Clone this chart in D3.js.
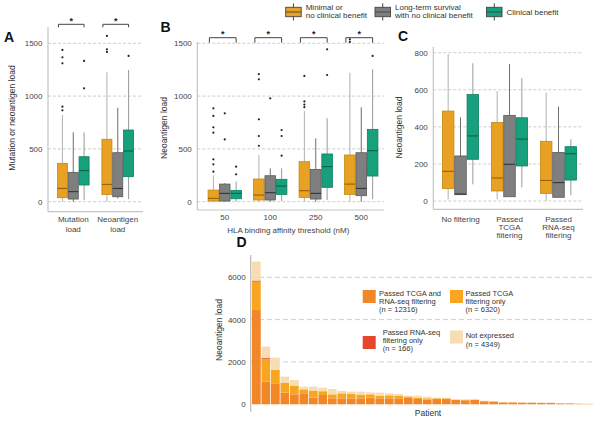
<!DOCTYPE html>
<html><head><meta charset="utf-8">
<script src="https://cdn.jsdelivr.net/npm/d3@7"></script>
<style>body{margin:0;background:#fff} svg{display:block}</style>
</head><body><svg id="c" width="600" height="423"></svg>
<script>
const F = '"Liberation Sans", Arial, Helvetica, sans-serif';
const FB = '"Liberation Sans Narrow", "Liberation Sans", Arial, sans-serif';

// ---------- series ----------
const seriesNames = ["Minimal or no clinical benefit", "Long-term survival with no clinical benefit", "Clinical benefit"];
const legendLines = [["Minimal or", "no clinical benefit"], ["Long-term survival", "with no clinical benefit"], ["Clinical benefit"]];
const boxFill = ["#E8A123", "#7f7f7f", "#17A07C"];
const boxStroke = ["#c4870f", "#5a5a5a", "#0e7f60"];
const medianColor = ["#8c5a00", "#2e2e2e", "#075c44"];
const whiskerColor = ["#b0b0b0", "#6e6e6e", "#9a9a9a"];

// ---------- Panel A ----------
const catsA = ["Mutation load", "Neoantigen load"];
const catLinesA = [["Mutation", "load"], ["Neoantigen", "load"]];
const ticksA = [0, 500, 1000, 1500];
// [lower whisker, Q1, median, Q3, upper whisker]
const boxA_minimal = [[0, 38, 126, 363, 821], [0, 69, 164, 591, 1225]];
const boxA_longterm = [[0, 25, 95, 278, 657], [30, 47, 126, 464, 890]];
const boxA_benefit = [[16, 158, 294, 426, 657], [25, 237, 480, 679, 1247]];
const outA_minimal = [[1437, 1367, 1310, 900, 865], [1570, 1443, 1418]];
const outA_longterm = [[], []];
const outA_benefit = [[1333, 1074], [1380]];

// ---------- Panel B ----------
const catsB = ["50", "100", "250", "500"];
const ticksB = [0, 500, 1000, 1500];
const boxB_minimal = [[0, 6, 32, 110, 250], [0, 16, 63, 215, 442], [0, 41, 104, 379, 859], [0, 69, 167, 442, 1222]];
const boxB_longterm = [[0, 6, 79, 167, 175], [0, 16, 85, 246, 316], [0, 25, 79, 306, 600], [0, 57, 126, 464, 894]];
const boxB_benefit = [[0, 28, 79, 107, 190], [6, 69, 148, 212, 316], [16, 136, 332, 452, 790], [25, 243, 483, 685, 1254]];
const outB_minimal = [[884, 812, 704, 654, 401, 354, 284], [1209, 1159, 780, 622, 530], [1191, 950, 920, 895], [1538, 1513]];
const outB_longterm = [[837, 590], [979], [], []];
const outB_benefit = [[332, 259], [679, 622, 436], [1443, 1200], [1380]];

// ---------- Panel C ----------
const catsC = ["No filtering", "Passed TCGA filtering", "Passed RNA-seq filtering"];
const catLinesC = [["No filtering"], ["Passed", "TCGA", "filtering"], ["Passed", "RNA-seq", "filtering"]];
const ticksC = [0, 200, 400, 600, 800];
const boxC_minimal = [[9, 67, 160, 485, 793], [9, 54, 124, 424, 593], [0, 41, 111, 322, 584]];
const boxC_longterm = [[36, 34, 38, 243, 451], [23, 23, 198, 462, 739], [20, 20, 99, 262, 509]];
const boxC_benefit = [[90, 225, 351, 574, 743], [74, 189, 334, 449, 662], [31, 113, 255, 293, 333]];

// ---------- Panel D ----------
const dLegend = ["Passed TCGA and RNA-seq filtering (n = 12316)", "Passed TCGA filtering only (n = 6320)", "Passed RNA-seq filtering only (n = 166)", "Not expressed (n = 4349)"];
const ticksD = [0, 2000, 4000, 6000];
const dBoth   = [4457,1071,992,551,472,488,315,441,283,283,283,283,315,283,283,283,330,252,220,250,260,205,189,205,142,130,90,90,78,75,62,62,48,45,20,10];
const dTcga   = [1340,1060,630,473,410,221,331,140,189,237,205,174,157,126,142,126,40,63,63,33,23,16,16,16,10,10,5,5,4,5,5,5,4,5,5,5];
const dRna    = [50,50,0,0,0,0,0,25,0,0,0,0,0,0,0,0,0,0,0,0,0,0,0,0,0,0,0,0,0,0,0,0,0,0,0,0];
const dNotExp = [894,544,583,283,268,126,189,181,252,110,110,141,95,142,95,79,39,94,79,32,32,31,31,31,21,17,15,15,12,14,12,12,11,13,22,16];
const dColors = ["#F2872A", "#F8A620", "#E5472A", "#F6DDB4"];

const svg = d3.select("#c");

function txt(g, x, y, s, size, anchor) {
  return g.append("text").attr("x", x).attr("y", y).attr("font-size", size)
    .attr("font-family", F).attr("fill", "#333").attr("text-anchor", anchor || "start").text(s);
}

function boxPanel(cfg) {
  const g = svg.append("g");
  const x = d3.scaleBand().domain(cfg.cats).range(cfg.xr).paddingInner(cfg.pad).paddingOuter(cfg.pad / 2);
  const xs = d3.scaleBand().domain([0, 1, 2]).range([0, x.bandwidth()]);
  const y = d3.scaleLinear().domain(cfg.yd).range(cfg.yr);
  g.selectAll("line.grid").data(cfg.ticks).join("line")
    .attr("x1", cfg.axisX).attr("x2", cfg.gridEnd)
    .attr("y1", d => y(d)).attr("y2", d => y(d))
    .attr("stroke", "#c2c2c2").attr("stroke-width", 0.8).attr("stroke-dasharray", "3,2");
  g.append("line").attr("x1", cfg.axisX).attr("x2", cfg.axisX).attr("y1", cfg.axisTop).attr("y2", cfg.axisBottom)
    .attr("stroke", "#c4c4c4").attr("stroke-width", 1.2);
  g.append("line").attr("x1", cfg.axisX).attr("x2", cfg.gridEnd).attr("y1", cfg.axisBottom).attr("y2", cfg.axisBottom)
    .attr("stroke", "#c4c4c4").attr("stroke-width", 1.2);
  const ax = d3.axisLeft(y).tickValues(cfg.ticks).tickSize(0).tickPadding(5.5).tickFormat(d3.format("d"));
  const ag = g.append("g").attr("transform", `translate(${cfg.axisX},0)`).call(ax);
  ag.select(".domain").remove();
  ag.selectAll("text").attr("font-size", 8).attr("fill", "#444").attr("font-family", F);

  cfg.boxes.forEach((arr, si) => {
    arr.forEach((b, ci) => {
      const x0 = x(cfg.cats[ci]) + xs(si), w = xs.bandwidth(), cx = x0 + w / 2;
      g.append("line").attr("x1", cx).attr("x2", cx).attr("y1", y(b[0])).attr("y2", y(b[1]))
        .attr("stroke", whiskerColor[si]).attr("stroke-width", 1);
      g.append("line").attr("x1", cx).attr("x2", cx).attr("y1", y(b[3])).attr("y2", y(b[4]))
        .attr("stroke", whiskerColor[si]).attr("stroke-width", 1);
      g.append("rect").attr("x", x0 + 0.4).attr("y", y(b[3])).attr("width", w - 0.8).attr("height", y(b[1]) - y(b[3]))
        .attr("fill", boxFill[si]).attr("stroke", boxStroke[si]).attr("stroke-width", 0.8);
      g.append("line").attr("x1", x0 + 0.4).attr("x2", x0 + w - 0.4).attr("y1", y(b[2])).attr("y2", y(b[2]))
        .attr("stroke", medianColor[si]).attr("stroke-width", 1);
      if (cfg.outliers) {
        g.selectAll(null).data(cfg.outliers[si][ci]).join("circle")
          .attr("cx", cx).attr("cy", d => y(d)).attr("r", 1.1).attr("fill", "#222");
      }
    });
  });
  cfg.cats.forEach((c, ci) => {
    const cx = x(c) + x.bandwidth() / 2;
    cfg.catLines[ci].forEach((ln, li) => {
      txt(g, cx, cfg.labelY + li * cfg.lineH, ln, 8, "middle").attr("fill", "#444");
    });
  });
  if (cfg.bracket) {
    cfg.cats.forEach(c => {
      const x1 = x(c) + xs.bandwidth() / 2 - 4, x2 = x(c) + xs(2) + xs.bandwidth() / 2;
      const by = cfg.bracket.y, bt = cfg.bracket.tick;
      g.append("path").attr("d", `M${x1},${by + bt}V${by}H${x2}V${by + bt}`)
        .attr("fill", "none").attr("stroke", "#444").attr("stroke-width", 1);
      txt(g, (x1 + x2) / 2, by - 0.5, "*", 9, "middle").attr("fill", "#222").attr("font-weight", "bold");
    });
  }
  g.append("text").attr("transform", `translate(${cfg.titleX},${cfg.titleY}) rotate(-90)`)
    .attr("text-anchor", "middle").attr("dy", "0.35em").attr("font-size", 8.5).attr("font-family", F)
    .attr("fill", "#333").text(cfg.title);
  g.append("text").attr("x", cfg.letter[0]).attr("y", cfg.letter[1]).attr("font-size", 14).attr("font-weight", "bold")
    .attr("font-family", FB).attr("fill", "#111").text(cfg.letter[2]);
  return { x, y, g };
}

boxPanel({
  cats: catsA, catLines: catLinesA, xr: [51, 140], pad: 0.27, yd: [0, 1500], yr: [201.7, 43.3], ticks: ticksA,
  axisX: 48, axisTop: 27, axisBottom: 211.7, gridEnd: 143,
  boxes: [boxA_minimal, boxA_longterm, boxA_benefit], outliers: [outA_minimal, outA_longterm, outA_benefit],
  labelY: 222, lineH: 10, bracket: { y: 24.3, tick: 3 },
  title: "Mutation or neoantigen load", titleX: 11.7, titleY: 118, letter: [4, 42, "A"]
});

const pB = boxPanel({
  cats: catsB, catLines: catsB.map(d => [d]), xr: [202, 384], pad: 0.25, yd: [0, 1500], yr: [201.7, 43.3], ticks: ticksB,
  axisX: 197.3, axisTop: 42, axisBottom: 210, gridEnd: 384,
  boxes: [boxB_minimal, boxB_longterm, boxB_benefit], outliers: [outB_minimal, outB_longterm, outB_benefit],
  labelY: 220.3, lineH: 10, bracket: { y: 37.7, tick: 5 },
  title: "Neoantigen load", titleX: 164, titleY: 128, letter: [160.5, 32, "B"]
});
txt(pB.g, 288.3, 232.5, "HLA binding affinity threshold (nM)", 8, "middle").attr("fill", "#444");

boxPanel({
  cats: catsC, catLines: catLinesC, xr: [436, 583], pad: 0.245, yd: [0, 800], yr: [201, 52.7], ticks: ticksC,
  axisX: 433.3, axisTop: 46.7, axisBottom: 209.3, gridEnd: 583,
  boxes: [boxC_minimal, boxC_longterm, boxC_benefit], outliers: null,
  labelY: 221.8, lineH: 8.3, bracket: null,
  title: "Neoantigen load", titleX: 399.3, titleY: 127.5, letter: [398, 41, "C"]
});

// ---------- top legend ----------
const legX = [285.7, 375, 486.5];
const legG = svg.append("g");
seriesNames.forEach((s, i) => {
  const x0 = legX[i], w = 15.5, cx = x0 + w / 2;
  legG.append("line").attr("x1", cx).attr("x2", cx).attr("y1", 3.3).attr("y2", 20.5).attr("stroke", "#444").attr("stroke-width", 1);
  legG.append("rect").attr("x", x0).attr("y", 7.3).attr("width", w).attr("height", 9.4)
    .attr("fill", boxFill[i]).attr("stroke", "#444").attr("stroke-width", 0.9);
  legG.append("line").attr("x1", x0).attr("x2", x0 + w).attr("y1", 12).attr("y2", 12).attr("stroke", "#444").attr("stroke-width", 0.9);
  const lines = legendLines[i];
  lines.forEach((ln, li) => {
    const yy = lines.length === 1 ? 14.8 : 10.2 + li * 8;
    txt(legG, x0 + w + 4.5, yy, ln, 8, "start").attr("fill", "#333");
  });
});

// ---------- Panel D ----------
const gD = svg.append("g");
const dRows = dBoth.map((v, i) => ({ patient: i, both: v, tcga: dTcga[i], rna: dRna[i], notexp: dNotExp[i] }));
const dKeys = ["both", "tcga", "rna", "notexp"];
const stacked = d3.stack().keys(dKeys)(dRows);
const xD = d3.scaleBand().domain(dRows.map(d => d.patient)).range([252, 593]).paddingInner(0.08);
const yD = d3.scaleLinear().domain([0, 6000]).range([404.3, 277.3]);

gD.selectAll("line.grid").data(ticksD.filter(d => d > 0)).join("line")
  .attr("x1", 251).attr("x2", 593).attr("y1", d => yD(d)).attr("y2", d => yD(d))
  .attr("stroke", "#c8c8c8").attr("stroke-width", 0.9).attr("stroke-dasharray", "5,3");

stacked.forEach((layer, li) => {
  gD.selectAll(null).data(layer).join("rect")
    .attr("x", d => xD(d.data.patient)).attr("width", xD.bandwidth())
    .attr("y", d => yD(d[1])).attr("height", d => Math.max(0, yD(d[0]) - yD(d[1])))
    .attr("fill", dColors[li]);
});

gD.append("line").attr("x1", 250.7).attr("x2", 250.7).attr("y1", 255).attr("y2", 411.7)
  .attr("stroke", "#bdbdbd").attr("stroke-width", 1.3);
const axD = d3.axisLeft(yD).tickValues(ticksD).tickSize(0).tickPadding(5).tickFormat(d3.format("d"));
const agD = gD.append("g").attr("transform", "translate(250.7,0)").call(axD);
agD.select(".domain").remove();
agD.selectAll("text").attr("font-size", 8).attr("fill", "#444").attr("font-family", F);

gD.append("text").attr("transform", "translate(219,330) rotate(-90)").attr("text-anchor", "middle")
  .attr("dy", "0.35em").attr("font-size", 8.5).attr("font-family", F).attr("fill", "#333").text("Neoantigen load");
txt(gD, 428, 415.5, "Patient", 8.5, "middle");
gD.append("text").attr("x", 236.5).attr("y", 247).attr("font-size", 14).attr("font-weight", "bold")
  .attr("font-family", FB).attr("fill", "#111").text("D");

const dLegPos = [[362.7, 290, 379, 295.5], [450, 290, 465.5, 295.5], [362.7, 336, 382.7, 334.5], [450, 330.5, 465.7, 338.3]];
const dLegLines = [["Passed TCGA and", "RNA-seq filtering", "(n = 12316)"], ["Passed TCGA", "filtering only", "(n = 6320)"],
                   ["Passed RNA-seq", "filtering only", "(n = 166)"], ["Not expressed", "(n = 4349)"]];
dLegend.forEach((s, i) => {
  const p = dLegPos[i];
  gD.append("rect").attr("x", p[0]).attr("y", p[1]).attr("width", 13).attr("height", 13).attr("fill", dColors[i]);
  dLegLines[i].forEach((ln, li) => txt(gD, p[2], p[3] + li * 8.2, ln, 7.5, "start").attr("fill", "#333"));
});
</script>
</body></html>
